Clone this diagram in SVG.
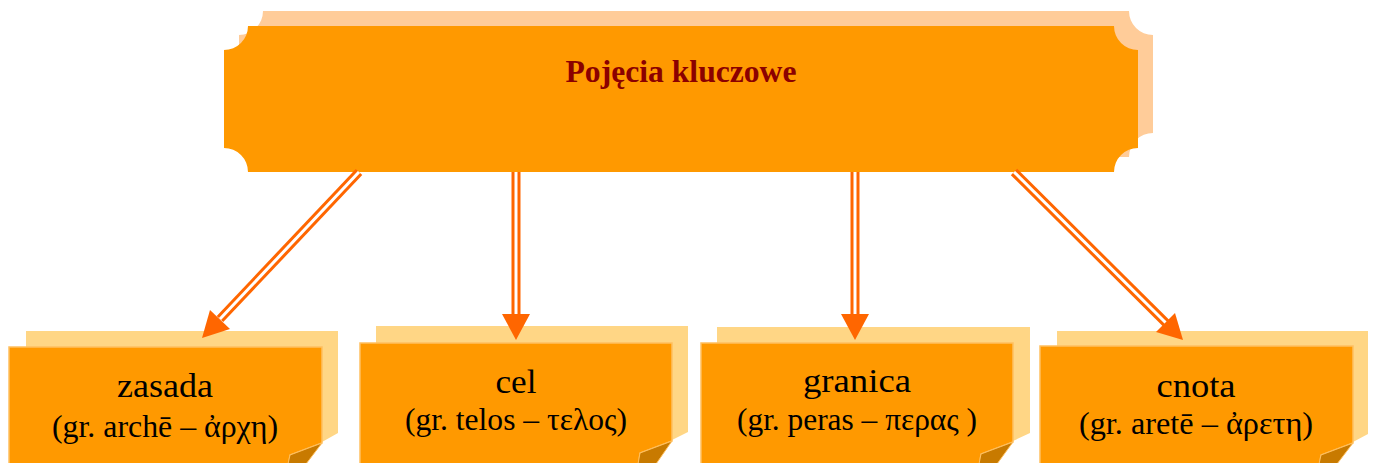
<svg xmlns="http://www.w3.org/2000/svg" width="1374" height="463" viewBox="0 0 1374 463">
<defs>
<style>
.tback{fill:#FFCC99}
.tfront{fill:#FF9900}
.bback{fill:#FFD685}
.bfront{fill:#FF9900;stroke:#FFC060;stroke-width:1.5}
.fold{fill:#C87A00;stroke:#FFC060;stroke-width:1}
.title{font-family:"Liberation Serif","Times New Roman",serif;font-weight:bold;font-size:31px;fill:#8B0000}
.l1{font-family:"Liberation Serif","Times New Roman",serif;font-size:34px;fill:#000}
.l2{font-family:"Liberation Serif","Times New Roman",serif;font-size:31px;fill:#000}
.shaft{stroke:#FF6600;stroke-width:9;fill:none}
.gap{stroke:#FFFFFF;stroke-width:3;fill:none}
.head{fill:#FF6600}
</style>
</defs>
<rect width="1374" height="463" fill="#FFFFFF"/>

<g id="node-top">
<path class="tback" d="M263,11 H1129 A24 24 0 0 0 1153,35 V133 A24 24 0 0 0 1129,157 H263 A24 24 0 0 0 239,133 V35 A24 24 0 0 0 263,11 Z"/>
<path class="tfront" d="M248,26 H1114 A24 24 0 0 0 1138,50 V148 A24 24 0 0 0 1114,172 H248 A24 24 0 0 0 224,148 V50 A24 24 0 0 0 248,26 Z"/>
<text class="title" x="681" y="82" text-anchor="middle" textLength="231" lengthAdjust="spacingAndGlyphs">Pojęcia kluczowe</text>
</g>

<g id="node-zasada">
<path class="bback" d="M26,331 H338 V433 L322,442 V347 H26 Z"/>
<path class="bfront" d="M9,347 H322 V443 L290,455 L288,470 H9 Z"/>
<path class="fold" d="M322,443 L290,455 L288,464 L306,464 Z"/>
<text class="l1" x="165" y="397" text-anchor="middle" textLength="96" lengthAdjust="spacingAndGlyphs">zasada</text>
<text class="l2" x="165" y="437" text-anchor="middle" textLength="226" lengthAdjust="spacingAndGlyphs">(gr. archē – ἀρχη)</text>
</g>

<g id="node-cel">
<path class="bback" d="M376,326 H688 V432 L672,440 V343 H376 Z"/>
<path class="bfront" d="M360,343 H672 V441 L640,453 L638,470 H360 Z"/>
<path class="fold" d="M672,441 L640,453 L638,464 L656,464 Z"/>
<text class="l1" x="516" y="393" text-anchor="middle" textLength="41" lengthAdjust="spacingAndGlyphs">cel</text>
<text class="l2" x="516" y="430" text-anchor="middle" textLength="222" lengthAdjust="spacingAndGlyphs">(gr. telos – τελος)</text>
</g>

<g id="node-granica">
<path class="bback" d="M717,327 H1030 V433 L1013,441 V343 H717 Z"/>
<path class="bfront" d="M701,343 H1013 V442 L981,454 L979,470 H701 Z"/>
<path class="fold" d="M1013,442 L981,454 L979,464 L997,464 Z"/>
<text class="l1" x="857" y="392" text-anchor="middle" textLength="108" lengthAdjust="spacingAndGlyphs">granica</text>
<text class="l2" x="857" y="430" text-anchor="middle" textLength="240" lengthAdjust="spacingAndGlyphs">(gr. peras – περας )</text>
</g>

<g id="node-cnota">
<path class="bback" d="M1057,331 H1368 V434 L1353,442 V346 H1057 Z"/>
<path class="bfront" d="M1040,346 H1353 V443 L1321,455 L1319,470 H1040 Z"/>
<path class="fold" d="M1353,443 L1321,455 L1319,464 L1337,464 Z"/>
<text class="l1" x="1196" y="397" text-anchor="middle" textLength="79" lengthAdjust="spacingAndGlyphs">cnota</text>
<text class="l2" x="1196" y="434" text-anchor="middle" textLength="234" lengthAdjust="spacingAndGlyphs">(gr. aretē – ἀρετη)</text>
</g>

<g id="connectors">
<g id="arrow-zasada">
<line class="shaft" x1="359" y1="172" x2="220" y2="319"/>
<line class="gap" x1="359" y1="172" x2="220" y2="319"/>
<polygon class="head" points="202,338 230,329 210,310"/>
</g>
<g id="arrow-cel">
<line class="shaft" x1="516" y1="172" x2="516" y2="316"/>
<line class="gap" x1="516" y1="172" x2="516" y2="316"/>
<polygon class="head" points="516,340 502,314 530,314"/>
</g>
<g id="arrow-granica">
<line class="shaft" x1="855" y1="172" x2="855" y2="316"/>
<line class="gap" x1="855" y1="172" x2="855" y2="316"/>
<polygon class="head" points="855,340 841,314 869,314"/>
</g>
<g id="arrow-cnota">
<line class="shaft" x1="1014" y1="172" x2="1166" y2="323"/>
<line class="gap" x1="1014" y1="172" x2="1166" y2="323"/>
<polygon class="head" points="1183,340 1156,332 1175,313"/>
</g>
</g>
</svg>
